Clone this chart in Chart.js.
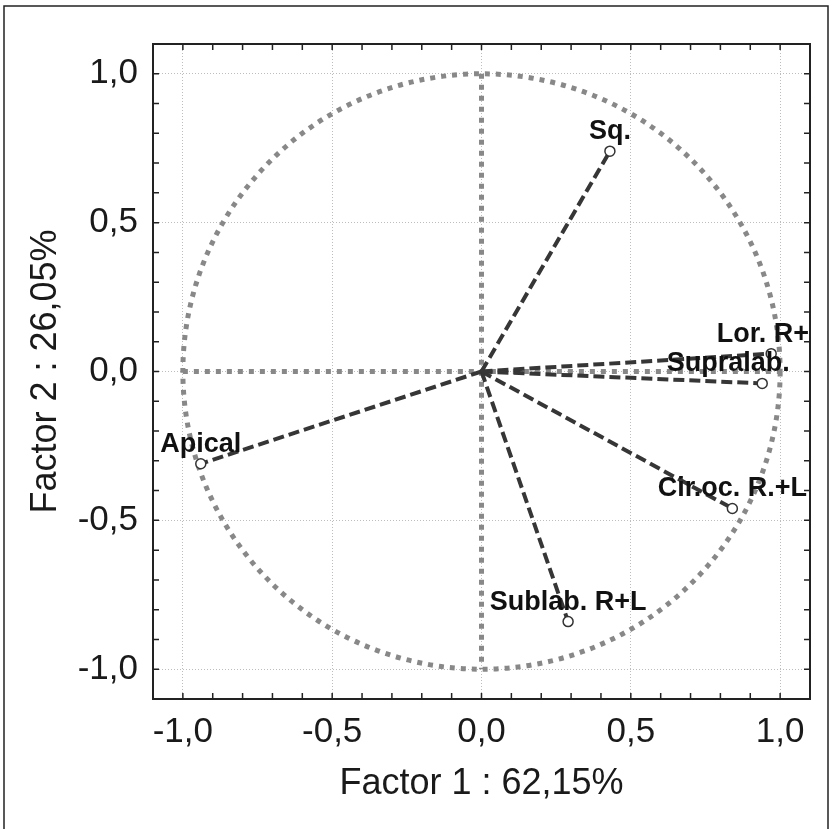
<!DOCTYPE html>
<html>
<head>
<meta charset="utf-8">
<script src="https://cdn.jsdelivr.net/npm/chart.js@4"></script>
<style>body{margin:0;background:#fff}</style>
</head>
<body>
<canvas id="pca" width="833" height="829"></canvas>
<script>
// Factor loadings
const variables = ["Sq.", "Lor. R+L", "Supralab.", "Cir.oc. R.+L", "Sublab. R+L", "Apical"];
const factor1 = [0.43, 0.97, 0.94, 0.84, 0.29, -0.94];
const factor2 = [0.74, 0.06, -0.04, -0.46, -0.84, -0.31];
const tickValues = [-1, -0.5, 0, 0.5, 1];
const xTitle = "Factor 1 : 62,15%";
const yTitle = "Factor 2 : 26,05%";

const FONT = '"Liberation Sans", Arial, sans-serif';

function fmt(v) {
    if (Math.abs(v) < 1e-9) v = 0;
    return v.toFixed(1).replace(".", ",");
}

const datasets = variables.map(function (name, i) {
    return {
        label: name,
        data: [{ x: 0, y: 0 }, { x: factor1[i], y: factor2[i] }],
        showLine: true,
        borderColor: "#363636",
        borderWidth: 4,
        borderDash: [11, 5],
        pointRadius: [0, 5],
        pointBackgroundColor: "#fff",
        pointBorderColor: "#333",
        pointBorderWidth: 1.5
    };
});

// circle, crosshair, labels, frame and inward ticks
const decor = {
    id: "decor",
    beforeDatasetsDraw(chart) {
        const { ctx, scales: { x, y } } = chart;
        const cx = x.getPixelForValue(0), cy = y.getPixelForValue(0);
        const rx = x.getPixelForValue(1) - cx, ry = cy - y.getPixelForValue(1);
        ctx.save();
        ctx.strokeStyle = "#888";
        ctx.lineWidth = 5;
        ctx.setLineDash([5, 6]);
        ctx.beginPath();
        ctx.ellipse(cx, cy, rx, ry, 0, 0, Math.PI * 2);
        ctx.stroke();
        ctx.beginPath();
        ctx.moveTo(x.getPixelForValue(-1), cy);
        ctx.lineTo(x.getPixelForValue(1), cy);
        ctx.stroke();
        ctx.beginPath();
        ctx.moveTo(cx, y.getPixelForValue(1));
        ctx.lineTo(cx, y.getPixelForValue(-1));
        ctx.stroke();
        ctx.restore();
    },
    afterDatasetsDraw(chart) {
        const { ctx, chartArea: a, scales: { x, y } } = chart;
        const nudge = { "Supralab.": -34 };
        ctx.save();
        ctx.beginPath();
        ctx.rect(a.left, a.top, a.right - a.left, a.bottom - a.top);
        ctx.clip();
        ctx.font = "bold 27px " + FONT;
        ctx.fillStyle = "#111";
        ctx.textAlign = "center";
        ctx.textBaseline = "alphabetic";
        variables.forEach(function (name, i) {
            const px = x.getPixelForValue(factor1[i]) + (nudge[name] || 0);
            const py = y.getPixelForValue(factor2[i]) - 12;
            ctx.fillText(name, px, py);
        });
        ctx.restore();
    },
    afterDraw(chart) {
        const { ctx, chartArea: a, scales: { x, y } } = chart;
        ctx.save();
        // outer border
        ctx.strokeStyle = "#222";
        ctx.lineWidth = 1.5;
        ctx.beginPath();
        ctx.moveTo(4, 840);
        ctx.lineTo(4, 6);
        ctx.lineTo(828, 6);
        ctx.lineTo(828, 840);
        ctx.stroke();
        // plot frame
        ctx.lineWidth = 2;
        ctx.strokeRect(a.left, a.top, a.right - a.left, a.bottom - a.top);
        // inward ticks every 0.1
        ctx.lineWidth = 1.5;
        ctx.beginPath();
        for (let k = -10; k <= 10; k++) {
            const px = x.getPixelForValue(k / 10);
            const py = y.getPixelForValue(k / 10);
            ctx.moveTo(px, a.bottom); ctx.lineTo(px, a.bottom - 6);
            ctx.moveTo(px, a.top); ctx.lineTo(px, a.top + 6);
            ctx.moveTo(a.left, py); ctx.lineTo(a.left + 6, py);
            ctx.moveTo(a.right, py); ctx.lineTo(a.right - 6, py);
        }
        ctx.stroke();
        ctx.restore();
    }
};

function fixedTicks(scale) {
    scale.ticks = tickValues.map(function (v) { return { value: v }; });
}

new Chart(document.getElementById("pca"), {
    type: "scatter",
    data: { datasets: datasets },
    options: {
        responsive: false,
        animation: false,
        layout: { padding: { left: 0, top: 44, right: 23, bottom: 0 } },
        plugins: { legend: { display: false }, tooltip: { enabled: false } },
        scales: {
            x: {
                min: -1.1, max: 1.1,
                afterBuildTicks: fixedTicks,
                afterFit(scale) { scale.height = 130; },
                grid: { color: "#bdbdbd", lineWidth: 1, drawTicks: false },
                border: { display: false, dash: [1, 2] },
                ticks: { padding: 12, color: "#1a1a1a", font: { family: FONT, size: 35 }, callback: fmt },
                title: { display: true, text: xTitle, color: "#1a1a1a", font: { family: FONT, size: 36 }, padding: { top: 4, bottom: 23 } }
            },
            y: {
                min: -1.1, max: 1.1,
                afterBuildTicks: fixedTicks,
                afterFit(scale) { scale.width = 153; },
                grid: { color: "#bdbdbd", lineWidth: 1, drawTicks: false },
                border: { display: false, dash: [1, 2] },
                ticks: { padding: 15, color: "#1a1a1a", font: { family: FONT, size: 35 }, callback: fmt },
                title: { display: true, text: yTitle, color: "#1a1a1a", font: { family: FONT, size: 36 }, padding: { top: 24, bottom: 0 } }
            }
        }
    },
    plugins: [decor]
});
</script>
</body>
</html>
